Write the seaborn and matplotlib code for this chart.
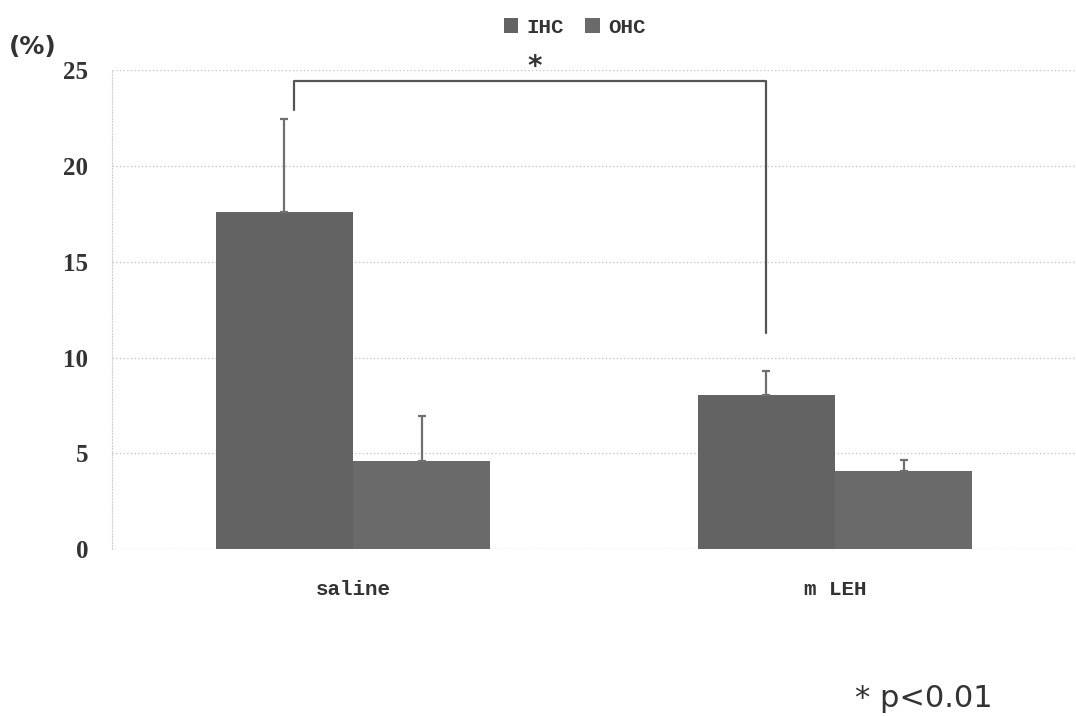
import pandas as pd
import seaborn as sns
import matplotlib.pyplot as plt

# values
groups = ["saline", "m LEH"]
cells = ["IHC", "OHC"]
ihc_mean = [17.6, 8.05]
ihc_err = [4.85, 1.25]
ohc_mean = [4.6, 4.1]
ohc_err = [2.35, 0.55]
y_ticks = [0, 5, 10, 15, 20, 25]

df = pd.DataFrame({
    "group": groups * 2,
    "cell": [cells[0]] * 2 + [cells[1]] * 2,
    "value": ihc_mean + ohc_mean,
    "err": ihc_err + ohc_err,
})

sns.set_style("white")
fig = plt.figure(figsize=(10.76, 7.16), dpi=100)
ax = fig.add_axes([0.104, 0.233, 0.896, 0.669])

sns.barplot(data=df, x="group", y="value", hue="cell", order=groups, hue_order=cells,
            palette=["#636363", "#6a6a6a"], width=0.57, gap=0, errorbar=None,
            saturation=1, linewidth=0, ax=ax)

# upward-only error bars at the bar centres
for cont, cell in zip(ax.containers, cells):
    sub = df[df["cell"] == cell].set_index("group").loc[groups]
    xs = [p.get_x() + p.get_width() / 2 for p in cont.patches]
    ax.errorbar(xs, sub["value"], yerr=[[0] * len(xs), sub["err"]], fmt="none",
                ecolor="#707070", elinewidth=1.6, capsize=3, capthick=1.6, zorder=3)

ax.set_xlim(-0.5, 1.5)
ax.set_ylim(0, 25)
ax.set_yticks(y_ticks)
ax.set_xlabel("")
ax.set_ylabel("")
for s in ["top", "right", "bottom"]:
    ax.spines[s].set_visible(False)
ax.spines["left"].set_color("#d0d0d0")
ax.spines["left"].set_linestyle(":")
ax.yaxis.grid(True, color="#c8c8c8", linestyle=":", linewidth=1)
ax.set_axisbelow(True)
ax.tick_params(axis="y", length=0, pad=17)
ax.tick_params(axis="x", length=0, pad=22)
for t in ax.get_yticklabels():
    t.set_fontfamily("Liberation Serif")
    t.set_fontweight("bold")
    t.set_fontsize(18)
    t.set_color("#333333")
for t in ax.get_xticklabels():
    t.set_fontfamily("Liberation Mono")
    t.set_fontweight("bold")
    t.set_fontsize(15)
    t.set_color("#333333")

# significance bracket between the IHC bars
ihc_x = [p.get_x() + p.get_width() / 2 for p in ax.containers[0].patches]
ax.plot([ihc_x[0] + 0.02, ihc_x[0] + 0.02, ihc_x[1], ihc_x[1]],
        [22.9, 24.45, 24.45, 11.3], color="#555555", lw=1.6, clip_on=False)
ax.text(sum(ihc_x) / 2 + 0.02, 24.45, "*", ha="center", va="bottom",
        fontsize=20, fontweight="bold", color="#333333")

leg = ax.legend(loc="lower center", bbox_to_anchor=(0.48, 1.03), ncol=2, frameon=False,
                handlelength=0.7, handleheight=0.7, handletextpad=0.4, columnspacing=1.0,
                prop={"family": "Liberation Mono", "weight": "bold", "size": 15})
for t in leg.get_texts():
    t.set_color("#333333")

fig.text(0.008, 0.925, "(%)", fontsize=18, fontweight="bold", color="#333333")
fig.text(0.795, 0.012, "* p<0.01", fontsize=22, color="#333333")

fig.savefig("out.png", dpi=100)
